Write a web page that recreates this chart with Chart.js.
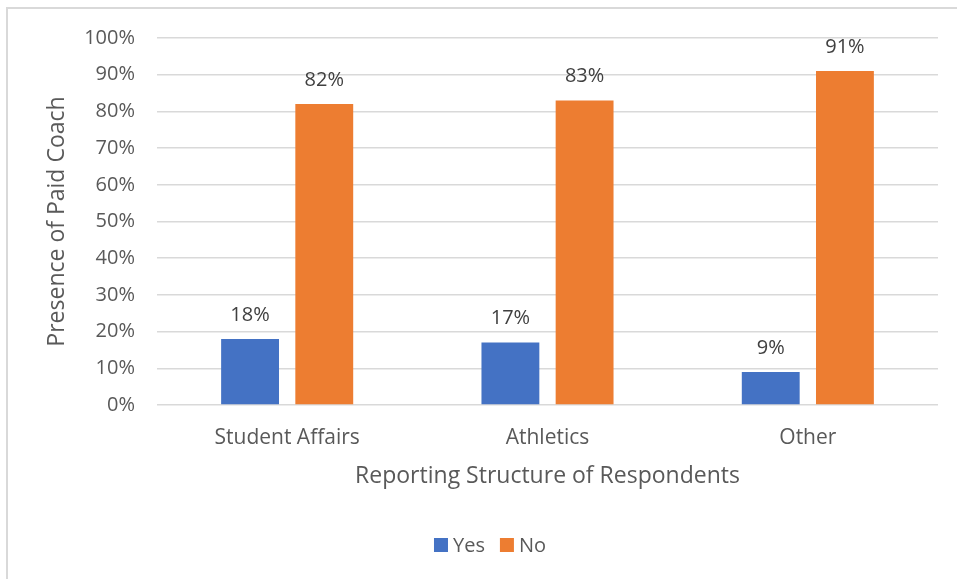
<!DOCTYPE html>
<html>
<head>
<meta charset="utf-8">
<script src="https://cdn.jsdelivr.net/npm/chart.js@4"></script>
<style>
  html, body { margin: 0; padding: 0; background: #fff; overflow: hidden; }
  #wrap { position: relative; width: 957px; height: 579px; }
  #frame { position: absolute; left: 6px; top: 7px; width: 1100px; height: 700px;
           border: 2px solid #d9d9d9; box-sizing: border-box; pointer-events: none; }
  canvas { position: absolute; left: 0; top: 0; }
</style>
</head>
<body>
<div id="wrap">
  <canvas id="coachChart" width="957" height="579"></canvas>
  <div id="frame"></div>
</div>
<script>
// Datos del gráfico
const categorias = ['Student Affairs', 'Athletics', 'Other'];
const valoresYes = [18, 17, 9];
const valoresNo = [82, 83, 91];
const ticksY = [0, 10, 20, 30, 40, 50, 60, 70, 80, 90, 100];

const FONT = '"Open Sans", sans-serif';
const GRIS_TEXTO = '#595959';

// Etiquetas de valor encima de cada barra
const etiquetasBarras = {
  id: 'etiquetasBarras',
  afterDatasetsDraw(chart) {
    const ctx = chart.ctx;
    ctx.save();
    ctx.font = '20px ' + FONT;
    ctx.fillStyle = '#404040';
    ctx.textAlign = 'center';
    ctx.textBaseline = 'middle';
    chart.data.datasets.forEach((ds, i) => {
      chart.getDatasetMeta(i).data.forEach((bar, j) => {
        ctx.fillText(ds.data[j] + '%', bar.x, bar.y - 24);
      });
    });
    ctx.restore();
  }
};

// Leyenda compacta debajo del título del eje X
const leyendaInferior = {
  id: 'leyendaInferior',
  afterDraw(chart) {
    const ctx = chart.ctx;
    const caja = 14, hueco = 5, separacion = 15, centroX = 490, centroY = 545;
    ctx.save();
    ctx.font = '20px ' + FONT;
    ctx.textBaseline = 'middle';
    const items = chart.data.datasets.map(ds => ({
      texto: ds.label, color: ds.backgroundColor, ancho: ctx.measureText(ds.label).width
    }));
    const total = items.reduce((s, it) => s + caja + hueco + it.ancho, 0) + separacion * (items.length - 1);
    let x = centroX - total / 2;
    items.forEach(it => {
      ctx.fillStyle = it.color;
      ctx.fillRect(x, centroY - caja / 2, caja, caja);
      x += caja + hueco;
      ctx.fillStyle = GRIS_TEXTO;
      ctx.fillText(it.texto, x, centroY + 1);
      x += it.ancho + separacion;
    });
    ctx.restore();
  }
};

const ctx = document.getElementById('coachChart').getContext('2d');

new Chart(ctx, {
  type: 'bar',
  data: {
    labels: categorias,
    datasets: [
      { label: 'Yes', data: valoresYes, backgroundColor: '#4472C4' },
      { label: 'No', data: valoresNo, backgroundColor: '#ED7D31' }
    ]
  },
  options: {
    responsive: false,
    animation: false,
    events: [],
    categoryPercentage: 0.57,
    barPercentage: 0.78,
    layout: { padding: { left: 0, right: 19, top: 38, bottom: 56 } },
    plugins: {
      tooltip: { enabled: false },
      legend: { display: false }
    },
    scales: {
      x: {
        afterFit: axis => { axis.height = 118; },
        grid: { display: false },
        border: { display: false },
        ticks: { color: GRIS_TEXTO, font: { family: FONT, size: 21 }, padding: 12 },
        title: {
          display: true,
          text: 'Reporting Structure of Respondents',
          color: GRIS_TEXTO,
          font: { family: FONT, size: 23 },
          padding: { top: 0, bottom: 33 }
        }
      },
      y: {
        min: 0,
        max: 100,
        afterFit: axis => { axis.width = 157; },
        afterBuildTicks: axis => { axis.ticks = ticksY.map(v => ({ value: v })); },
        grid: { color: '#d9d9d9', lineWidth: 1.5, drawTicks: false },
        border: { display: false },
        ticks: {
          color: GRIS_TEXTO,
          font: { family: FONT, size: 20 },
          padding: 22,
          callback: v => v + '%'
        },
        title: {
          display: true,
          text: 'Presence of Paid Coach',
          color: GRIS_TEXTO,
          font: { family: FONT, size: 23 },
          padding: { top: 44, bottom: 0 }
        }
      }
    }
  },
  plugins: [etiquetasBarras, leyendaInferior]
});
</script>
</body>
</html>
